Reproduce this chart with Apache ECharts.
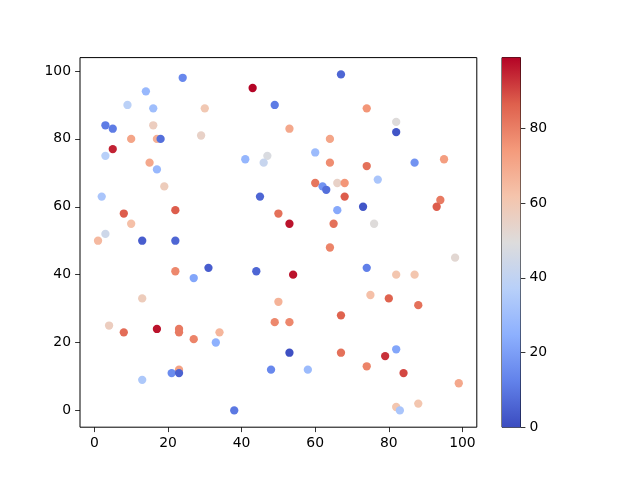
<!DOCTYPE html>
<html>
<head>
<meta charset="utf-8">
<script src="https://cdn.jsdelivr.net/npm/echarts@6/dist/echarts.min.js"></script>
<style>html,body{margin:0;padding:0;background:#fff;}#c{width:640px;height:480px;}</style>
</head>
<body>
<div id="c"></div>
<script>
// x, y, color value of each point (drawn in this order)
const xs = [24,14,9,16,30,3,5,16,10,17,18,29,5,3,15,17,19,2,8,22,10,3,1,13,22,
            22,27,31,13,4,8,17,23,23,27,34,33,13,23,21,23,
            67,43,49,53,64,41,47,46,60,64,60,62,63,66,68,68,45,50,53,66,65,64,44,54,50,67,49,53,53,67,48,58,38,
            74,82,82,95,87,74,77,94,93,73,76,98,74,82,87,75,80,88,82,79,74,84,99,88,82,83];
const ys = [98,94,90,89,89,84,83,84,80,80,80,81,77,75,73,71,66,63,58,59,55,52,50,50,50,
            41,39,42,33,25,23,24,24,23,21,23,20,9,12,11,11,
            99,95,90,83,80,74,75,73,76,73,67,66,65,67,67,63,63,58,55,59,55,48,41,40,32,28,26,26,17,17,12,12,0,
            89,85,82,74,73,72,68,62,60,60,55,45,42,40,40,34,33,31,18,16,13,11,8,2,1,0];
const cs = [14,28,38,30,60,11,11,57,71,68,8,55,95,37,70,28,58,33,87,87,63,44,65,4,6,
            78,22,4,58,57,84,97,81,81,79,66,25,34,72,15,5,
            6,99,11,70,71,27,48,42,29,77,82,17,8,55,75,87,6,83,97,23,83,79,6,97,67,86,78,78,1,83,14,29,10,
            75,50,2,73,17,83,33,81,87,2,50,52,12,61,61,63,86,83,22,93,79,90,70,61,61,33];
const xTicks = [0,20,40,60,80,100];
const yTicks = [0,20,40,60,80,100];
const cTicks = [0,20,40,60,80];
const cMin = 0, cMax = 99;

const coolwarm = ['#3b4cc0','#6282ea','#8db0fe','#b8d0f9','#dddcdc','#f5c4ac','#f49a7b','#de604d','#b40426'];

const font = 'DejaVu Sans';
const chart = echarts.init(document.getElementById('c'), null, {renderer:'canvas'});
const pts = xs.map((x,i)=>[x, ys[i], cs[i]]);
const gradStops = coolwarm.map((c,i)=>({offset:i/(coolwarm.length-1), color:c}));

const tick = {show:true, length:4.9, inside:false, lineStyle:{color:'#000', width:0.8}};
chart.setOption({
  backgroundColor:'#ffffff',
  animation:false,
  grid:[
    {left:80, top:57.6, width:396.8, height:369.6, show:true, borderColor:'#000', borderWidth:1, backgroundColor:'transparent'},
    {left:502, top:57.6, width:18.5, height:369.6, show:true, borderColor:'#000', borderWidth:1, backgroundColor:'transparent'}
  ],
  xAxis:[
    {type:'value', gridIndex:0, min:-3.9, max:103.9, position:'bottom', splitLine:{show:false},
     axisLine:{show:false, onZero:false},
     axisTick:Object.assign({customValues:xTicks}, tick),
     axisLabel:{color:'#000', fontFamily:font, fontSize:13.9, margin:9, customValues:xTicks}},
    {type:'category', gridIndex:1, data:['c'], show:false, boundaryGap:false}
  ],
  yAxis:[
    {type:'value', gridIndex:0, min:-4.95, max:103.95, position:'left', splitLine:{show:false},
     axisLine:{show:false, onZero:false},
     axisTick:Object.assign({customValues:yTicks}, tick),
     axisLabel:{color:'#000', fontFamily:font, fontSize:13.9, margin:9, customValues:yTicks}},
    {type:'value', gridIndex:1, min:cMin, max:cMax, position:'right', splitLine:{show:false},
     axisLine:{show:false, onZero:false},
     axisTick:Object.assign({customValues:cTicks}, tick),
     axisLabel:{color:'#000', fontFamily:font, fontSize:13.9, margin:9, customValues:cTicks}}
  ],
  visualMap:{show:false, type:'continuous', dimension:2, min:cMin, max:cMax, seriesIndex:0,
             inRange:{color:coolwarm}},
  series:[
    {type:'scatter', xAxisIndex:0, yAxisIndex:0, data:pts, symbolSize:8.3,
     itemStyle:{opacity:1}},
    {type:'bar', xAxisIndex:1, yAxisIndex:1, data:[cMax], barWidth:'100%', silent:true,
     itemStyle:{color:new echarts.graphic.LinearGradient(0,1,0,0,gradStops)}}
  ]
});
</script>
</body>
</html>
